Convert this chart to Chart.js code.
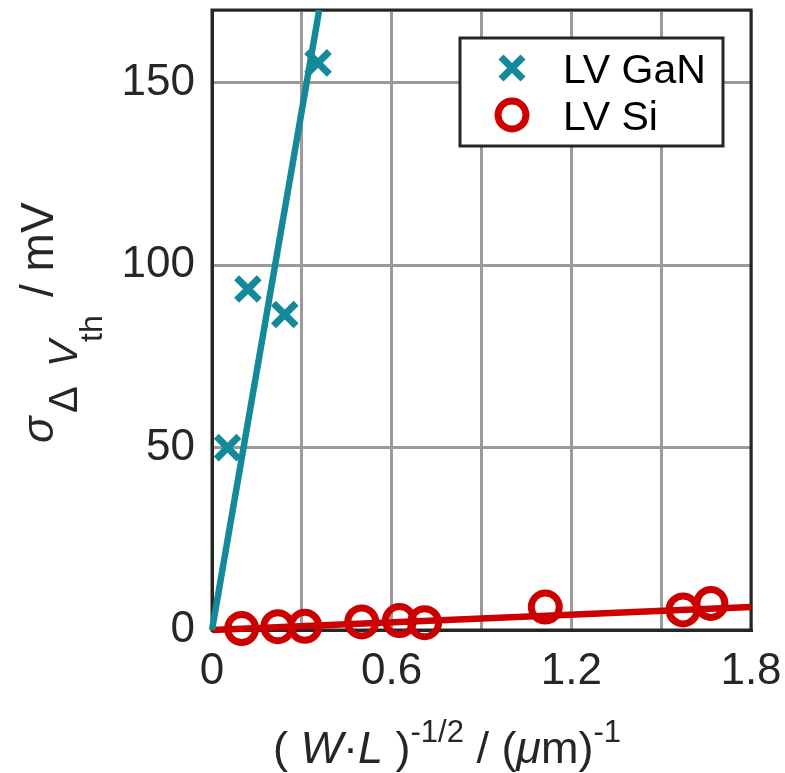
<!DOCTYPE html>
<html>
<head>
<meta charset="utf-8">
<script src="https://cdn.jsdelivr.net/npm/chart.js@4"></script>
<style>
  body { margin: 0; background: #fff; }
</style>
</head>
<body>
<canvas id="myChart" width="785" height="773"></canvas>
<script>
// measured data
const ganX = [0.052, 0.12, 0.243, 0.354];
const ganY = [50, 93.5, 86.5, 155.5];
const siX = [0.099, 0.22, 0.31, 0.5, 0.626, 0.71, 1.113, 1.573, 1.666];
const siY = [0.4, 0.9, 1.0, 2.2, 2.6, 2.0, 6.3, 5.5, 7.3];
// linear fits
const ganFitX = [0, 0.358];
const ganFitY = [0, 170];
const siFitX = [0, 1.8];
const siFitY = [0, 6.3];
// tick labels
const xTickLabels = ["0", "0.6", "1.2", "1.8"];
const yTickLabels = ["0", "50", "100", "150"];
const seriesNames = ["LV GaN", "LV Si"];

const TEAL = "#13899a";
const RED = "#cc0000";
const FRAME = "#262626";
const FONT = '"Liberation Sans", Arial, Helvetica, sans-serif';

const pts = (xs, ys) => xs.map((x, i) => ({ x: x, y: ys[i] }));

const tickLabel = (labels) => (value) => {
	const s = String(Math.round(value * 10) / 10);
	return labels.includes(s) ? s : "";
};

// frame + axis titles + legend
const decorations = {
	id: "decorations",
	beforeDatasetsDraw(chart) {
		const { ctx, chartArea: a } = chart;
		ctx.save();
		ctx.strokeStyle = FRAME;
		ctx.lineWidth = 3;
		ctx.strokeRect(a.left, a.top, a.right - a.left, a.bottom - a.top);
		ctx.restore();
	},
	afterDraw(chart) {
		const ctx = chart.ctx;
		ctx.save();
		ctx.fillStyle = FRAME;
		ctx.textBaseline = "alphabetic";

		// x title
		const xs = [
			["( ", "45px", 0],
			["W", "italic 45px", 0],
			["\u00b7", "45px", 0],
			["L", "italic 45px", 0],
			[" )", "45px", 0],
			["-1/2", "31px", -21],
			[" / (", "45px", 0],
			["\u03bc", "italic 45px", 0],
			["m)", "45px", 0],
			["-1", "31px", -21],
		];
		let x = 273;
		xs.forEach(([t, f, dy]) => {
			ctx.font = f + " " + FONT;
			ctx.fillText(t, x, 763 + dy);
			x += ctx.measureText(t).width;
		});

		// y title (rotated)
		ctx.translate(53, 443);
		ctx.rotate(-Math.PI / 2);
		const ys = [
			["\u03c3", "italic 44px", 0, 0],
			["\u0394", "40px", 30, 24],
			["V", "italic 40px", 76, 24],
			["th", "32px", 101, 49],
			["/ mV", "46px", 146, 0],
		];
		ys.forEach(([t, f, u, v]) => {
			ctx.font = f + " " + FONT;
			ctx.fillText(t, u, v);
		});
		ctx.restore();

		// legend
		ctx.save();
		ctx.fillStyle = "#fff";
		ctx.fillRect(460, 38, 263, 108);
		ctx.strokeStyle = FRAME;
		ctx.lineWidth = 3;
		ctx.strokeRect(460, 38, 263, 108);
		// cross marker
		ctx.strokeStyle = TEAL;
		ctx.lineWidth = 7;
		const cx = 512, cy = 68, r = 11;
		ctx.beginPath();
		ctx.moveTo(cx - r, cy - r);
		ctx.lineTo(cx + r, cy + r);
		ctx.moveTo(cx - r, cy + r);
		ctx.lineTo(cx + r, cy - r);
		ctx.stroke();
		// circle marker
		ctx.strokeStyle = RED;
		ctx.lineWidth = 7;
		ctx.beginPath();
		ctx.arc(512, 115, 14, 0, Math.PI * 2);
		ctx.stroke();
		ctx.fillStyle = "#000";
		ctx.font = "41px " + FONT;
		ctx.fillText(seriesNames[0], 563, 83);
		ctx.fillText(seriesNames[1], 563, 130);
		ctx.restore();
	},
};

const ctx = document.getElementById("myChart").getContext("2d");
new Chart(ctx, {
	type: "scatter",
	data: {
		datasets: [
			{
				label: "LV GaN fit",
				data: pts(ganFitX, ganFitY),
				showLine: true,
				borderColor: TEAL,
				borderWidth: 6.5,
				pointRadius: 0,
				clip: false,
				order: 0,
			},
			{
				label: "LV Si fit",
				data: pts(siFitX, siFitY),
				showLine: true,
				borderColor: RED,
				borderWidth: 6.5,
				pointRadius: 0,
				clip: false,
				order: 0,
			},
			{
				label: seriesNames[0],
				data: pts(ganX, ganY),
				pointStyle: "crossRot",
				pointRadius: 16,
				borderColor: TEAL,
				borderWidth: 7,
				clip: false,
				order: 1,
			},
			{
				label: seriesNames[1],
				data: pts(siX, siY),
				pointStyle: "circle",
				pointRadius: 14,
				borderColor: RED,
				backgroundColor: "rgba(0,0,0,0)",
				borderWidth: 7,
				clip: false,
				order: 1,
			},
		],
	},
	options: {
		responsive: false,
		animation: false,
		events: [],
		layout: { autoPadding: false, padding: { left: 0, right: 34, top: 10, bottom: 0 } },
		plugins: { legend: { display: false }, tooltip: { enabled: false } },
		scales: {
			x: {
				type: "linear",
				min: 0,
				max: 1.8,
				afterFit: (s) => {
					s.height = 143;
					s.paddingLeft = 0;
					s.paddingRight = 0;
				},
				ticks: {
					stepSize: 0.3,
					autoSkip: false,
					maxRotation: 0,
					padding: 15,
					color: FRAME,
					font: { family: FONT, size: 44 },
					callback: tickLabel(xTickLabels),
				},
				grid: { color: "#9a9a9a", lineWidth: 3, drawTicks: false },
				border: { display: true, color: FRAME, width: 3 },
			},
			y: {
				type: "linear",
				min: 0,
				max: 170,
				afterFit: (s) => {
					s.width = 212;
					s.paddingTop = 0;
					s.paddingBottom = 0;
				},
				ticks: {
					stepSize: 50,
					autoSkip: false,
					padding: 17,
					color: FRAME,
					font: { family: FONT, size: 44 },
					callback: tickLabel(yTickLabels),
				},
				grid: { color: "#9a9a9a", lineWidth: 3, drawTicks: false },
				border: { display: true, color: FRAME, width: 3 },
			},
		},
	},
	plugins: [decorations],
});
</script>
</body>
</html>
